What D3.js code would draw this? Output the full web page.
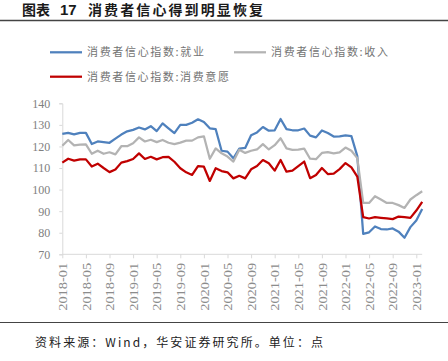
<!DOCTYPE html>
<html>
<head>
<meta charset="utf-8">
<script src="https://cdn.jsdelivr.net/npm/d3@7"></script>
<style>
  body { margin: 0; background: #fff; }
  svg { display: block; }
</style>
</head>
<body>
<div id="chart"></div>
<script>
// month labels, 2018-01 .. 2023-02
const months = [];
for (let y = 2018; y <= 2023; y++) {
  for (let m = 1; m <= 12; m++) {
    if (y === 2023 && m > 2) break;
    months.push(y + "-" + String(m).padStart(2, "0"));
  }
}

const employment = [
  125.8, 126.3, 125.6, 126.3, 126.3, 121.1, 122.3, 122.0, 121.7, 123.6, 125.5, 127.0,
  127.7, 128.8, 127.9, 129.4, 127.1, 130.7, 128.4, 126.2, 130.0, 130.0, 131.0, 132.6,
  131.3, 128.4, 128.0, 118.0, 117.6, 114.5, 119.0, 119.3, 125.2, 126.5, 129.0, 127.3,
  127.5, 132.7, 128.0, 127.5, 127.5, 128.3, 125.0, 124.2, 127.4, 126.2, 124.6, 124.7,
  125.1, 124.8, 115.5, 79.5, 80.2, 82.9, 81.7, 81.5, 82.0, 80.5, 77.7, 82.6,
  85.7, 91.0
];
const income = [
  120.3, 123.0, 120.5, 120.8, 121.0, 116.6, 118.0, 116.6, 117.3, 116.3, 120.1, 120.1,
  121.5, 124.2, 122.3, 123.1, 122.0, 123.0, 121.7, 121.1, 121.8, 122.7, 122.7, 124.2,
  124.7, 114.3, 119.1, 116.8, 115.3, 113.0, 118.5, 117.0, 118.0, 118.6, 121.1, 118.6,
  120.6, 123.8, 119.1, 118.4, 118.5, 119.0, 114.3, 114.1, 117.0, 117.4, 116.8, 117.2,
  119.5, 118.0, 114.6, 93.8, 93.8, 96.9, 95.4, 93.8, 93.8, 92.8, 91.5, 95.4,
  97.4, 99.2
];
const willingness = [
  112.5, 114.3, 113.4, 114.0, 114.0, 110.7, 112.0, 110.0, 108.1, 109.3, 112.5, 113.2,
  114.2, 116.8, 114.2, 115.2, 114.0, 115.0, 115.2, 112.9, 109.9, 108.0, 106.8, 110.9,
  110.6, 104.0, 109.9, 108.6, 108.0, 105.2, 106.4, 105.2, 109.4, 110.9, 113.7, 112.2,
  108.8, 113.7, 108.3, 108.8, 110.9, 113.0, 105.3, 106.8, 110.0, 107.2, 107.4, 109.5,
  112.3, 110.3, 106.0, 87.2, 86.6, 87.2, 86.9, 86.6, 86.3, 87.5, 87.2, 86.9,
  90.3, 94.3
];

const seriesNames = ["消费者信心指数:就业", "消费者信心指数:收入", "消费者信心指数:消费意愿"];
const seriesColours = ["#4f81bd", "#b3b3b3", "#c00000"];
const yTicks = [70, 80, 90, 100, 110, 120, 130, 140];

const W = 448, H = 361;
const cjk = "'Noto Sans CJK SC', 'Noto Sans', sans-serif";
const serif = "'Liberation Serif', 'DejaVu Serif', serif";

const svg = d3.select("#chart").append("svg").attr("width", W).attr("height", H);

// header
const title = svg.append("g").attr("font-family", cjk).attr("font-weight", "bold")
  .attr("font-size", 14).attr("fill", "#1a1a1a");
title.append("text").attr("x", 22).attr("y", 15).text("图表");
title.append("text").attr("x", 60).attr("y", 15).attr("font-family", "Arial, 'Liberation Sans', sans-serif")
  .attr("font-size", 15).text("17");
title.append("text").attr("x", 88).attr("y", 15).attr("textLength", 175)
  .attr("lengthAdjust", "spacing").text("消费者信心得到明显恢复");
svg.append("line").attr("x1", 0).attr("x2", W).attr("y1", 20.5).attr("y2", 20.5)
  .attr("stroke", "#444").attr("stroke-width", 1.5);

// scales
const x = d3.scalePoint().domain(months).range([62.3, 422.2]);
const y = d3.scaleLinear().domain([70, 140]).range([254.3, 103.3]);

// y axis
const yAxis = svg.append("g").attr("transform", "translate(62.3,0)")
  .call(d3.axisLeft(y).tickValues(yTicks).tickSize(3).tickPadding(9));
yAxis.select(".domain").attr("stroke", "#d9d9d9");
yAxis.selectAll(".tick line").attr("stroke", "#d9d9d9");
yAxis.selectAll("text").attr("font-family", serif).attr("font-size", 12).attr("fill", "#808080");

// x axis
const xTickValues = months.filter((d, i) => i % 4 === 0);
const xAxis = svg.append("g").attr("transform", "translate(0,254.3)")
  .call(d3.axisBottom(x).tickValues(xTickValues).tickSize(4).tickSizeOuter(0));
xAxis.select(".domain").attr("stroke", "#d9d9d9").attr("d", "M62.3,0H422.2");
xAxis.selectAll(".tick line").attr("stroke", "#d9d9d9");
xAxis.selectAll("text")
  .attr("font-family", serif).attr("font-size", 12).attr("fill", "#8c8c8c")
  .attr("transform", "rotate(-90)")
  .attr("text-anchor", "end")
  .attr("x", -8.5).attr("y", 0).attr("dy", "0.35em")
  .attr("textLength", 48).attr("lengthAdjust", "spacingAndGlyphs");

// lines
const line = d3.line().x((d, i) => x(months[i])).y(d => y(d));
[employment, income, willingness].forEach((values, k) => {
  svg.append("path").datum(values)
    .attr("fill", "none")
    .attr("stroke", seriesColours[k])
    .attr("stroke-width", 2.25)
    .attr("stroke-linejoin", "round")
    .attr("d", line);
});

// legend
const legendPos = [[50, 52.3, 117], [234, 52.3, 117], [50, 76.7, 142]];
const legend = svg.append("g").attr("font-family", cjk).attr("font-size", 11).attr("fill", "#737373");
seriesNames.forEach((name, k) => {
  const [lx, ly, tl] = legendPos[k];
  legend.append("line").attr("x1", lx).attr("x2", lx + 32).attr("y1", ly).attr("y2", ly)
    .attr("stroke", seriesColours[k]).attr("stroke-width", 2.25);
  legend.append("text").attr("x", lx + 37).attr("y", ly + 4).attr("textLength", tl)
    .attr("lengthAdjust", "spacing").text(name);
});

// footer
svg.append("line").attr("x1", 0).attr("x2", W).attr("y1", 322.5).attr("y2", 322.5)
  .attr("stroke", "#444").attr("stroke-width", 1.2);
svg.append("text").attr("x", 35).attr("y", 347).attr("font-family", cjk)
  .attr("font-size", 12).attr("fill", "#222").attr("textLength", 288).attr("lengthAdjust", "spacing")
  .text("资料来源：Wind，华安证券研究所。单位：点");
</script>
</body>
</html>
